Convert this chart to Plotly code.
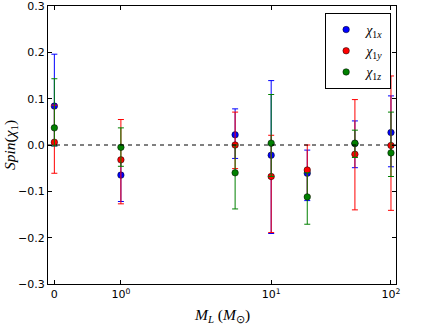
import numpy as np
import plotly.graph_objects as go

# lens masses (M_sun) and recovered spin components with upper / lower bounds
masses = [0, 1, 5, 10, 20, 50, 100]

chi_x = [0.084, -0.065, 0.022, -0.022, -0.061, 0.003, 0.027]
chi_x_hi = [0.196, -0.030, 0.078, 0.139, -0.011, 0.052, 0.106]
chi_x_lo = [-0.002, -0.122, -0.029, -0.191, -0.120, -0.049, -0.047]

chi_y = [0.006, -0.032, 0.000, -0.068, -0.054, -0.020, -0.001]
chi_y_hi = [0.086, 0.055, 0.071, 0.021, 0.000, 0.098, 0.149]
chi_y_lo = [-0.061, -0.127, -0.051, -0.189, -0.110, -0.140, -0.141]

chi_z = [0.037, -0.005, -0.060, 0.004, -0.112, 0.004, -0.017]
chi_z_hi = [0.143, 0.037, 0.000, 0.109, -0.060, 0.032, 0.071]
chi_z_lo = [-0.002, -0.046, -0.138, -0.068, -0.171, -0.027, -0.068]

xtick_vals = [0, 1, 10, 100]
xtick_text = ["0", "10<sup>0</sup>", "10<sup>1</sup>", "10<sup>2</sup>"]
ytick_vals = [-0.3, -0.2, -0.1, 0.0, 0.1, 0.2, 0.3]


def symlog(x, linthresh=2.0, linscale=1.0):
    # matplotlib style symmetric log scale (plotly has none)
    x = np.asarray(x, dtype=float)
    adj = linscale / (1.0 - 0.1)
    out = np.where(np.abs(x) <= linthresh,
                   x / linthresh * adj,
                   np.sign(x) * (adj + np.log10(np.maximum(np.abs(x), 1e-12) / linthresh)))
    return out


def add_series(fig, val, hi, lo, color, name):
    val = np.array(val)
    fig.add_trace(go.Scatter(
        x=symlog(masses), y=val, mode="markers", name=name,
        marker=dict(color=color, size=6.5, line=dict(color="black", width=0.5)),
        error_y=dict(type="data", symmetric=False,
                     array=np.array(hi) - val, arrayminus=val - np.array(lo),
                     color=color, thickness=1, width=3),
    ))


fig = go.Figure()
add_series(fig, chi_x, chi_x_hi, chi_x_lo, "#0000ff", "<i>χ</i><sub>1<i>x</i></sub>")
add_series(fig, chi_y, chi_y_hi, chi_y_lo, "#ff0000", "<i>χ</i><sub>1<i>y</i></sub>")
add_series(fig, chi_z, chi_z_hi, chi_z_lo, "#008000", "<i>χ</i><sub>1<i>z</i></sub>")

fig.add_shape(type="line", xref="paper", yref="y", x0=0, x1=1, y0=0, y1=0,
              line=dict(color="black", width=1, dash="4px,4px"))

axis_style = dict(showline=True, linecolor="black", linewidth=1, mirror="allticks",
                  ticks="inside", ticklen=4, tickcolor="black", showgrid=False,
                  zeroline=False, automargin=False, ticklabeloverflow="allow",
                  tickfont=dict(family="DejaVu Sans", size=11, color="black"))

fig.update_xaxes(range=[-0.053, 2.852], tickmode="array",
                 tickvals=symlog(xtick_vals), ticktext=xtick_text, **axis_style)
fig.update_yaxes(range=[-0.3, 0.3], tickmode="array", tickvals=ytick_vals,
                 tickformat=".1f", **axis_style)

title_font = dict(family="Liberation Serif", size=15.5, color="black")
fig.add_annotation(text="<i>M</i><sub><i>L</i></sub> (<i>M</i><sub>⊙</sub>)",
                   xref="paper", yref="paper", x=0.5, y=-0.112,
                   xanchor="center", yanchor="middle", showarrow=False, font=title_font)
fig.add_annotation(text="<i>Spin</i>(<i>χ</i><sub>1</sub>)",
                   xref="paper", yref="paper", x=-0.109, y=0.5, textangle=-90,
                   xanchor="center", yanchor="middle", showarrow=False, font=title_font)

fig.update_layout(
    width=436, height=327,
    margin=dict(l=48, r=40, t=6, b=43),
    plot_bgcolor="white", paper_bgcolor="white",
    showlegend=True,
    legend=dict(x=0.986, y=0.975, xanchor="right", yanchor="top",
                bordercolor="black", borderwidth=1, bgcolor="white",
                font=dict(family="Liberation Serif", size=14, color="black"),
                itemwidth=30, tracegroupgap=0),
)

# drop the default page margin so the figure sits at the window's corner
fig.write_html("out.html", config={"displayModeBar": False},
               post_script="document.body.style.margin='0px';")
